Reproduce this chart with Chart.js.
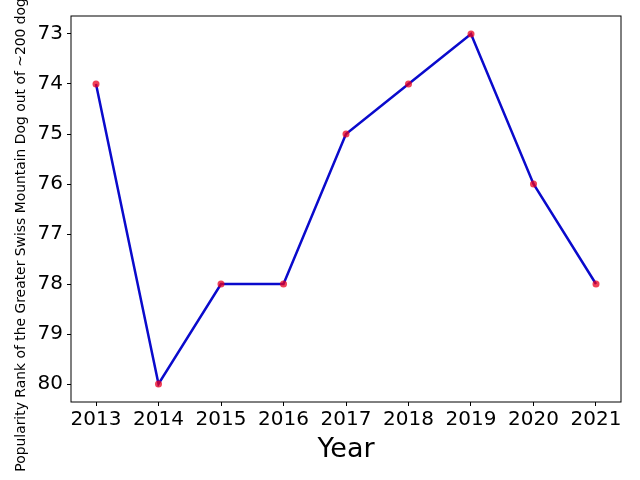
<!DOCTYPE html>
<html>
<head>
<meta charset="utf-8">
<script src="https://cdn.jsdelivr.net/npm/chart.js@4"></script>
<style>
  html, body { margin: 0; padding: 0; background: #fff; }
  #wrap { width: 640px; height: 480px; }
</style>
</head>
<body>
<div id="wrap"><canvas id="rankChart" width="640" height="480"></canvas></div>
<script>
// data
const years = [2013, 2014, 2015, 2016, 2017, 2018, 2019, 2020, 2021];
const ranks = [74, 80, 78, 78, 75, 74, 73, 76, 78];
const yTicks = [73, 74, 75, 76, 77, 78, 79, 80];

const xTitle = 'Year';
const yTitle = 'Popularity Rank of the Greater Swiss Mountain Dog out of ~200 dog breeds';

const FONT = 'DejaVu Sans';

// frame + axis titles, drawn like matplotlib does
const framePlugin = {
    id: 'frame',
    afterDraw(chart) {
        const { ctx, chartArea } = chart;
        ctx.save();
        ctx.strokeStyle = '#000';
        ctx.lineWidth = 1;
        ctx.strokeRect(chartArea.left, chartArea.top,
            chartArea.right - chartArea.left, chartArea.bottom - chartArea.top);

        ctx.fillStyle = '#000';
        ctx.font = '27px "' + FONT + '"';
        ctx.textAlign = 'center';
        ctx.textBaseline = 'middle';
        ctx.fillText(xTitle, (chartArea.left + chartArea.right) / 2, 450);

        // y title centred on the axes, runs off the top like the original
        ctx.translate(21, (chartArea.top + chartArea.bottom) / 2);
        ctx.rotate(-Math.PI / 2);
        ctx.font = '13.9px "' + FONT + '"';
        ctx.textAlign = 'center';
        ctx.textBaseline = 'middle';
        ctx.fillText(yTitle, 0, 0);
        ctx.restore();
    }
};

const ctx = document.getElementById('rankChart');
new Chart(ctx, {
    type: 'line',
    data: {
        datasets: [{
            data: years.map((y, i) => ({ x: y, y: ranks[i] })),
            borderColor: '#0a0acc',
            borderWidth: 2.5,
            pointRadius: 3.5,
            pointBackgroundColor: 'rgba(235, 0, 30, 0.75)',
            pointBorderWidth: 0,
            tension: 0
        }]
    },
    options: {
        responsive: false,
        animation: false,
        layout: { padding: { top: 15, right: 19, left: 0, bottom: 0 } },
        plugins: {
            legend: { display: false },
            tooltip: { enabled: false }
        },
        scales: {
            x: {
                type: 'linear',
                min: 2012.6,
                max: 2021.4,
                afterFit: (scale) => { scale.height = 78; },
                afterBuildTicks: (scale) => {
                    scale.ticks = years.map(v => ({ value: v }));
                },
                ticks: {
                    color: '#000',
                    font: { family: FONT, size: 20 },
                    padding: 2,
                    maxRotation: 0,
                    callback: (v) => String(v)
                },
                grid: {
                    drawOnChartArea: false,
                    drawTicks: true,
                    tickLength: 4,
                    color: '#000'
                },
                border: { display: false }
            },
            y: {
                type: 'linear',
                reverse: true,
                min: 72.64,
                max: 80.36,
                afterFit: (scale) => { scale.width = 71; },
                afterBuildTicks: (scale) => {
                    scale.ticks = yTicks.map(v => ({ value: v }));
                },
                ticks: {
                    color: '#000',
                    font: { family: FONT, size: 20 },
                    padding: 4,
                    callback: (v) => String(v)
                },
                grid: {
                    drawOnChartArea: false,
                    drawTicks: true,
                    tickLength: 4,
                    color: '#000'
                },
                border: { display: false }
            }
        }
    },
    plugins: [framePlugin]
});
</script>
</body>
</html>
